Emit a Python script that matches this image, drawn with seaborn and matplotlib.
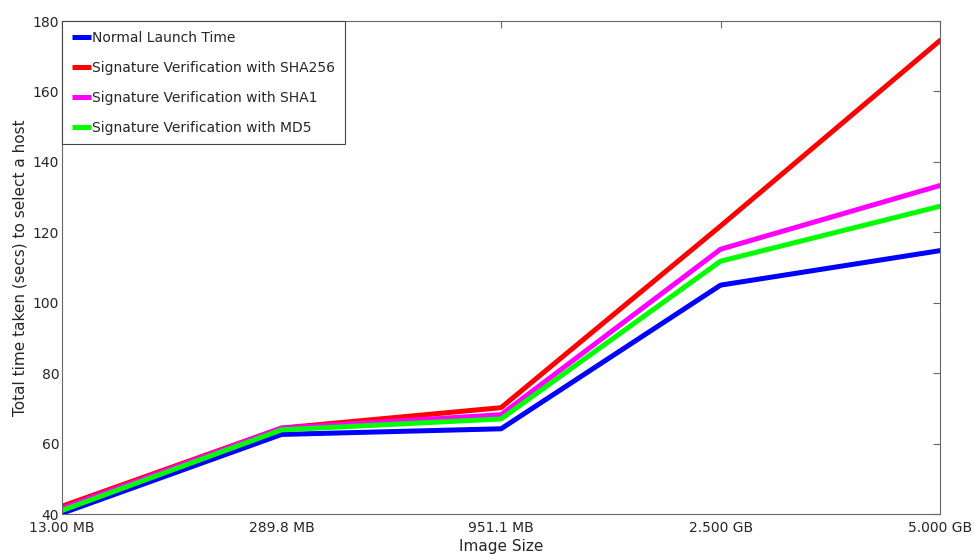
import pandas as pd
import seaborn as sns
import matplotlib.pyplot as plt

# values
sizes = ["13.00 MB", "289.8 MB", "951.1 MB", "2.500 GB", "5.000 GB"]
normal = [40.2, 62.6, 64.2, 105.0, 114.8]
sha256 = [42.2, 64.4, 70.2, 121.8, 174.5]
sha1 = [41.6, 64.4, 68.2, 115.2, 133.3]
md5 = [41.0, 63.9, 67.0, 111.8, 127.4]

series_names = ["Normal Launch Time",
                "Signature Verification with SHA256",
                "Signature Verification with SHA1",
                "Signature Verification with MD5"]
colors = ["#0000ff", "#ff0000", "#ff00ff", "#00ff00"]

#build long form table for seaborn
rows = []
for name, vals in zip(series_names, [normal, sha256, sha1, md5]):
    for i, v in enumerate(vals):
        rows.append({"pos": i, "size": sizes[i], "time": v, "series": name})
df = pd.DataFrame(rows)

sns.set_style("white")
plt.rcParams['font.family'] = ['DejaVu Sans']
plt.rcParams['text.color'] = '#262626'
plt.rcParams['axes.labelcolor'] = '#262626'
plt.rcParams['xtick.color'] = '#262626'
plt.rcParams['ytick.color'] = '#262626'

fig = plt.figure(figsize=(9.74, 5.54), dpi=100)
ax = fig.add_axes([0.0637, 0.0722, 0.9015, 0.8898])

sns.lineplot(data=df, x="pos", y="time", hue="series", hue_order=series_names,
             palette=colors, linewidth=3.6, ax=ax)

ax.set_xlim(0, len(sizes) - 1)
ax.set_ylim(40, 180)
ax.set_xticks(range(len(sizes)))
ax.set_xticklabels(sizes)
ax.set_yticks(range(40, 181, 20))
ax.tick_params(axis='both', direction='in', length=5, width=0.8, color='#666666',
               labelsize=10, top=True, right=True, pad=2)
ax.tick_params(axis='x', pad=5)
for sp in ax.spines.values():
    sp.set_color('#666666')
    sp.set_linewidth(0.8)

ax.set_xlabel("Image Size", fontsize=11, labelpad=3)
ax.set_ylabel("Total time taken (secs) to select a host", fontsize=11, labelpad=4)

leg = ax.legend(loc='upper left', borderaxespad=0, fontsize=10, handlelength=1.4,
                handletextpad=0.05, labelspacing=1.15, borderpad=0.7,
                fancybox=False, framealpha=1)
leg.get_frame().set_edgecolor('#444444')
leg.get_frame().set_linewidth(0.8)
for line in leg.get_lines():
    line.set_linewidth(3.6)
    line.set_solid_capstyle('butt')

fig.savefig("out.png", dpi=100)
